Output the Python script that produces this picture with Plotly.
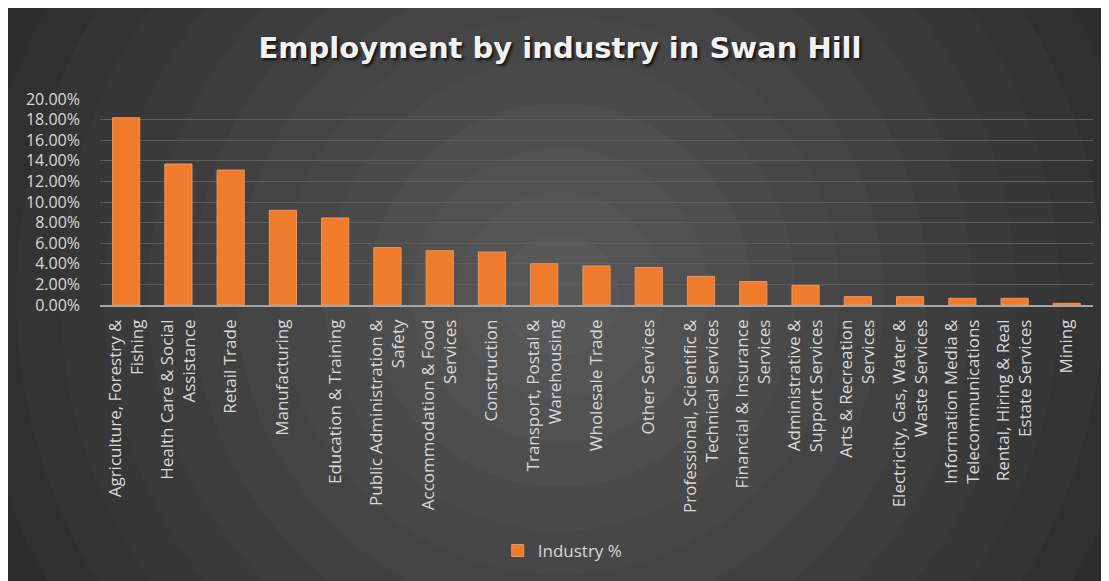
import plotly.graph_objects as go

categories = [
    "Agriculture, Forestry &<br>Fishing", "Health Care & Social<br>Assistance", "Retail Trade",
    "Manufacturing", "Education & Training", "Public Administration &<br>Safety",
    "Accommodation & Food<br>Services", "Construction", "Transport, Postal &<br>Warehousing",
    "Wholesale Trade", "Other Services", "Professional, Scientific &<br>Technical Services",
    "Financial & Insurance<br>Services", "Administrative &<br>Support Services",
    "Arts & Recreation<br>Services", "Electricity, Gas, Water &<br>Waste Services",
    "Information Media &<br>Telecommunications", "Rental, Hiring & Real<br>Estate Services", "Mining",
]
values = [0.1818, 0.1369, 0.1310, 0.0919, 0.0845, 0.0557, 0.0527, 0.0514, 0.0401,
          0.0379, 0.0363, 0.0278, 0.0227, 0.0191, 0.0081, 0.0081, 0.0065, 0.0065, 0.0016]
series_name = "Industry %"
title_text = "Employment by industry in Swan Hill"

W, H = 1109, 581
ml, mr, mt, mb = 92, 24, 91, 284
pw, ph = W - ml - mr, H - mt - mb

fig = go.Figure()
fig.add_trace(go.Bar(
    x=categories, y=values, name=series_name,
    marker=dict(color="#EF7B2C", line=dict(color="#F59358", width=1)),
    width=0.52, showlegend=True,
))

# concentric background rings (figure pixel coords)
cx, cy = 552, 287
shapes = []
n = 16
for i in range(n):
    r = 720 - i * 44
    t = i / (n - 1)
    c0, c1 = 0x27, 0x58
    g = int(c0 + (c1 - c0) * t)
    col = f"rgb({g},{g},{g})"
    shapes.append(dict(
        type="circle", xref="paper", yref="paper", layer="below",
        x0=(cx - r - ml) / pw, x1=(cx + r - ml) / pw,
        y0=(H - mb - cy - r) / ph, y1=(H - mb - cy + r) / ph,
        fillcolor=col, line=dict(width=0),
    ))

fig.update_layout(
    width=W, height=H,
    margin=dict(l=ml, r=mr, t=mt, b=mb),
    paper_bgcolor="#262626", plot_bgcolor="rgba(0,0,0,0)",
    shapes=shapes,
    title=dict(text=title_text, x=552 / W, xanchor="center", y=1 - 40 / H, yanchor="middle",
               font=dict(family="DejaVu Sans", size=29, weight="bold", color="#F2F2F2",
                         shadow="2px 2px 3px #111111")),
    font=dict(family="Open Sans", color="#D9D9D9"),
    legend=dict(orientation="h", x=0.466, xanchor="center", y=-(543 - (H - mb)) / ph, yanchor="middle",
                font=dict(size=17, color="#D9D9D9"), bgcolor="rgba(0,0,0,0)", itemwidth=30),
    xaxis=dict(tickangle=-90, tickfont=dict(size=17, color="#D9D9D9"), showgrid=False,
               showline=True, linecolor="#A6A6A6", linewidth=1.5, ticks="", ticklabelstandoff=6),
    yaxis=dict(range=[0, 0.2], dtick=0.02, tickformat=".2%", tickfont=dict(size=16, color="#D9D9D9"),
               gridcolor="#5E5E5E", gridwidth=1, zeroline=False, showline=False, ticks="",
               ticklabelstandoff=19),
)

fig.write_html("out.html")
